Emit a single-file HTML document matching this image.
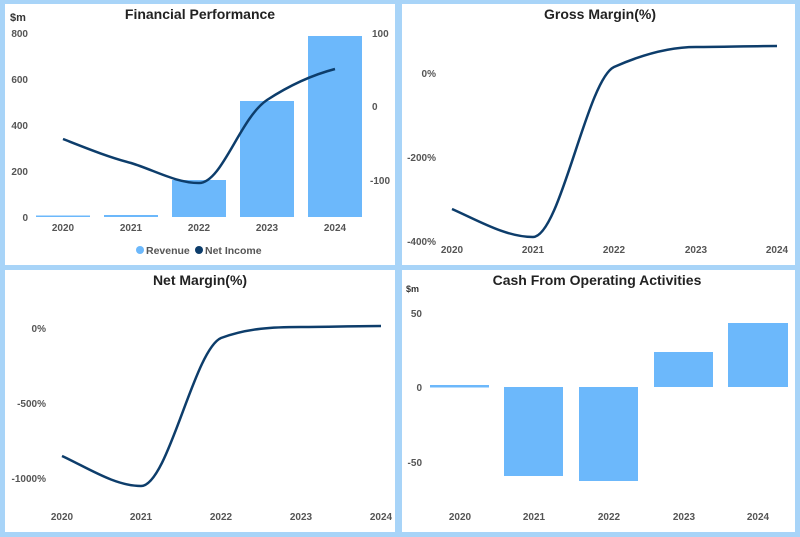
<!DOCTYPE html>
<html><head><meta charset="utf-8"><style>
html,body{margin:0;padding:0;background:#a8d4f8;}
svg{display:block;font-family:"Liberation Sans",sans-serif;}
.t{font-size:14px;font-weight:bold;fill:#222;text-anchor:middle}
.k{font-size:10px;font-weight:bold;fill:#555}
</style></head><body>
<svg width="800" height="537" viewBox="0 0 800 537">
<rect width="800" height="537" fill="#a8d4f8"/>
<rect x="5" y="4" width="390" height="261" fill="#fff"/>
<rect x="402" y="4" width="393" height="261" fill="#fff"/>
<rect x="5" y="270" width="390" height="262" fill="#fff"/>
<rect x="402" y="270" width="393" height="262" fill="#fff"/>

<!-- Financial Performance -->
<text class="t" x="200" y="19">Financial Performance</text>
<text class="k" x="10" y="21" style="font-size:11px;fill:#333">$m</text>
<g class="k" text-anchor="end">
<text x="28" y="37">800</text><text x="28" y="83">600</text><text x="28" y="129">400</text><text x="28" y="175">200</text><text x="28" y="221">0</text>
</g>
<g class="k">
<text x="372" y="37">100</text><text x="372" y="110">0</text><text x="370" y="184">-100</text>
</g>
<g fill="#6cb8fb">
<rect x="36" y="215.5" width="54" height="1.5"/>
<rect x="104" y="215" width="54" height="2"/>
<rect x="172" y="180" width="54" height="37"/>
<rect x="240" y="101" width="54" height="116"/>
<rect x="308" y="36" width="54" height="181"/>
</g>
<path d="M63,139 C86,148 108,157 131,163 C154,170 176,183 199,183 C222,183 240,118 267,100 C290,85 312,75 335,69" fill="none" stroke="#0d3d6b" stroke-width="2.5"/>
<g class="k" text-anchor="middle">
<text x="63" y="231">2020</text><text x="131" y="231">2021</text><text x="199" y="231">2022</text><text x="267" y="231">2023</text><text x="335" y="231">2024</text>
</g>
<circle cx="140" cy="250" r="4" fill="#6cb8fb"/>
<text class="k" x="146" y="254" style="font-size:10.5px">Revenue</text>
<circle cx="199" cy="250" r="4" fill="#0d3d6b"/>
<text class="k" x="205" y="254" style="font-size:10.5px">Net Income</text>

<!-- Gross Margin -->
<text class="t" x="600" y="19">Gross Margin(%)</text>
<g class="k" text-anchor="end">
<text x="436" y="77">0%</text><text x="436" y="161">-200%</text><text x="436" y="245">-400%</text>
</g>
<path d="M452,209 C479,221 506,237 533,237 C560,237 587,80 614,67 C641,55 669,47 696,47 C723,47 750,46 777,46" fill="none" stroke="#0d3d6b" stroke-width="2.5"/>
<g class="k" text-anchor="middle">
<text x="452" y="253">2020</text><text x="533" y="253">2021</text><text x="614" y="253">2022</text><text x="696" y="253">2023</text><text x="777" y="253">2024</text>
</g>

<!-- Net Margin -->
<text class="t" x="200" y="285">Net Margin(%)</text>
<g class="k" text-anchor="end">
<text x="46" y="332">0%</text><text x="46" y="407">-500%</text><text x="46" y="482">-1000%</text>
</g>
<path d="M62,456 C88,468 115,486 141,486 C168,486 194,350 221,338 C248,328 274,327 301,327 C328,327 354,326 381,326" fill="none" stroke="#0d3d6b" stroke-width="2.5"/>
<g class="k" text-anchor="middle">
<text x="62" y="520">2020</text><text x="141" y="520">2021</text><text x="221" y="520">2022</text><text x="301" y="520">2023</text><text x="381" y="520">2024</text>
</g>

<!-- Cash From Operating Activities -->
<text class="t" x="597" y="285">Cash From Operating Activities</text>
<text class="k" x="406" y="292" style="font-size:9px;fill:#333">$m</text>
<g class="k" text-anchor="end">
<text x="422" y="317">50</text><text x="422" y="391">0</text><text x="422" y="466">-50</text>
</g>
<g fill="#6cb8fb">
<rect x="430" y="385" width="59" height="2.5"/>
<rect x="504" y="387" width="59" height="89"/>
<rect x="579" y="387" width="59" height="94"/>
<rect x="654" y="352" width="59" height="35"/>
<rect x="728" y="323" width="60" height="64"/>
</g>
<g class="k" text-anchor="middle">
<text x="460" y="520">2020</text><text x="534" y="520">2021</text><text x="609" y="520">2022</text><text x="684" y="520">2023</text><text x="758" y="520">2024</text>
</g>
</svg>
</body></html>
